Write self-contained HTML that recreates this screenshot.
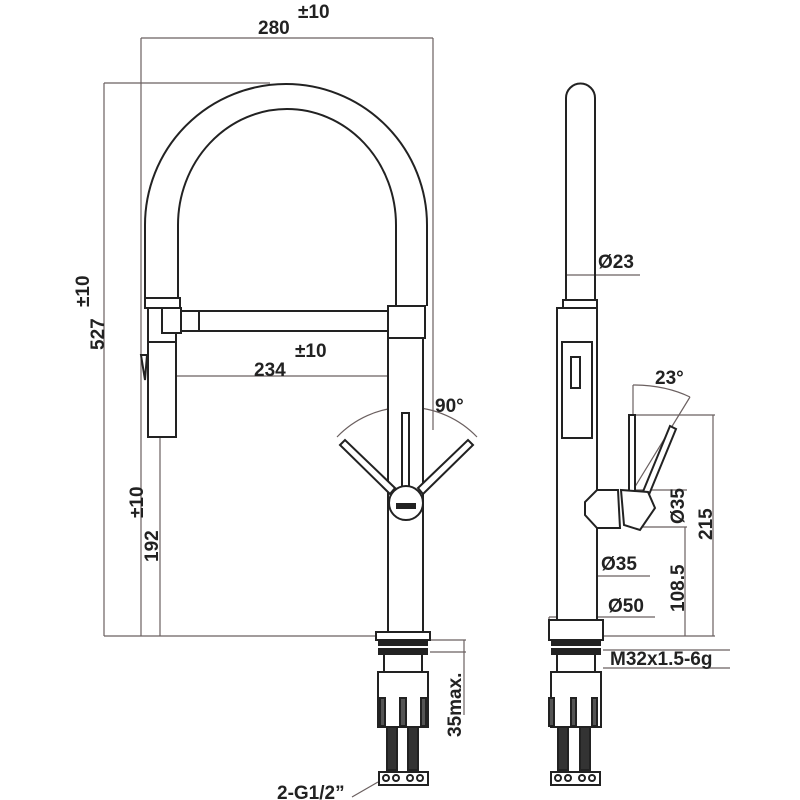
<!DOCTYPE html>
<html><head><meta charset="utf-8"><style>body{margin:0;background:#fff}svg{display:block}text{font-family:"Liberation Sans",sans-serif;font-weight:bold;fill:#222}</style></head><body>
<svg width="800" height="800" viewBox="0 0 800 800" xmlns="http://www.w3.org/2000/svg">
<g stroke="#6b6060" stroke-width="1.2" fill="none">
<line x1="141" y1="38" x2="433" y2="38"/>
<line x1="141" y1="38" x2="141" y2="636"/>
<line x1="433" y1="38" x2="433" y2="430"/>
<line x1="104" y1="83" x2="104" y2="636"/>
<line x1="104" y1="83" x2="270" y2="83"/>
<line x1="104" y1="636" x2="380" y2="636"/>
<line x1="160" y1="358" x2="160" y2="636"/>
<line x1="160" y1="376" x2="407" y2="376"/>
<line x1="407" y1="364" x2="407" y2="392"/>
<line x1="430" y1="640" x2="466" y2="640"/>
<line x1="430" y1="652" x2="466" y2="652"/>
<line x1="464" y1="640" x2="464" y2="715"/>
<path d="M337 437 A97 97 0 0 1 477 437"/>
<line x1="378" y1="782" x2="352" y2="797"/>
<line x1="567" y1="275" x2="640" y2="275"/>
<line x1="562" y1="576" x2="650" y2="576"/>
<line x1="549" y1="617" x2="655" y2="617"/>
<line x1="549" y1="617" x2="549" y2="640"/>
<line x1="603" y1="650" x2="730" y2="650"/>
<line x1="603" y1="668" x2="730" y2="668"/>
<line x1="628" y1="415" x2="715" y2="415"/>
<line x1="713" y1="415" x2="713" y2="636"/>
<line x1="620" y1="490" x2="687" y2="490"/>
<line x1="640" y1="527" x2="687" y2="527"/>
<line x1="685" y1="527" x2="685" y2="636"/>
<line x1="600" y1="636" x2="715" y2="636"/>
<line x1="633" y1="385" x2="633" y2="415"/>
<line x1="633" y1="490" x2="690" y2="397"/>
<path d="M633 385 Q665 385 690 397"/>
</g>
<g stroke="#222" stroke-width="2" fill="none">
<path d="M145 298 V225 A141 141 0 0 1 427 225 V306"/>
<path d="M178 298 V225 A109 116 0 0 1 396 225 V306"/>
<rect x="145" y="298" width="35" height="10" fill="#fff"/>
<rect x="148" y="308" width="28" height="129" fill="#fff"/>
<line x1="148" y1="342" x2="176" y2="342"/>
<path d="M141 355 L147 355 L145 380 Z" fill="#fff"/>
<rect x="162" y="308" width="19" height="25" fill="#fff"/>
<rect x="181" y="311" width="18" height="20" fill="#fff"/>
<rect x="199" y="311" width="189" height="20" fill="#fff"/>
<rect x="388" y="306" width="37" height="32" fill="#fff"/>
<rect x="388" y="338" width="35" height="294" fill="#fff"/>
<rect x="402" y="413" width="7" height="78" fill="#fff"/>
<path d="M340 445 L345 440 L395 488 L390 494 Z" fill="#fff"/>
<path d="M473 445 L468 440 L418 488 L423 494 Z" fill="#fff"/>
<circle cx="406" cy="503" r="17" fill="#fff"/>
<rect x="397" y="504" width="18" height="4" fill="#222"/>
<rect x="376" y="632" width="54" height="8" fill="#fff"/>
<rect x="379" y="641" width="48" height="4" fill="#222"/>
<rect x="379" y="649" width="48" height="5" fill="#222"/>
<rect x="384" y="654" width="38" height="18" fill="#fff"/>
<rect x="378" y="672" width="50" height="55" fill="#fff"/>
<rect x="380" y="698" width="5" height="28" fill="#555"/>
<rect x="400" y="698" width="6" height="28" fill="#555"/>
<rect x="421" y="698" width="5" height="28" fill="#555"/>
<rect x="387" y="727" width="10" height="43" fill="#333"/>
<rect x="408" y="727" width="10" height="43" fill="#333"/>
<rect x="379" y="772" width="49" height="13" fill="#fff"/>
<circle cx="386" cy="778" r="3"/><circle cx="396" cy="778" r="3"/><circle cx="410" cy="778" r="3"/><circle cx="420" cy="778" r="3"/>
<path d="M566 300 V98 A14.5 14.5 0 0 1 595 98 V300"/>
<rect x="563" y="300" width="34" height="8" fill="#fff"/>
<rect x="557" y="308" width="40" height="324" fill="#fff"/>
<rect x="562" y="342" width="30" height="96"/>
<rect x="571" y="357" width="9" height="31"/>
<rect x="629" y="415" width="6" height="78" fill="#fff"/>
<path d="M670 426 L676 429 L648 497 L642 494 Z" fill="#fff"/>
<path d="M597 490 L618 490 L620 528 L597 528 L585 515 L585 502 Z" fill="#fff"/>
<path d="M621 490 L648 492 L655 508 L640 530 L624 525 Z" fill="#fff"/>
<rect x="549" y="620" width="54" height="20" fill="#fff"/>
<rect x="552" y="641" width="48" height="4" fill="#222"/>
<rect x="552" y="649" width="48" height="5" fill="#222"/>
<rect x="557" y="654" width="38" height="18" fill="#fff"/>
<rect x="551" y="672" width="50" height="55" fill="#fff"/>
<rect x="549" y="698" width="5" height="28" fill="#555"/>
<rect x="571" y="698" width="5" height="28" fill="#555"/>
<rect x="592" y="698" width="5" height="28" fill="#555"/>
<rect x="558" y="727" width="10" height="43" fill="#333"/>
<rect x="580" y="727" width="10" height="43" fill="#333"/>
<rect x="551" y="772" width="49" height="13" fill="#fff"/>
<circle cx="558" cy="778" r="3"/><circle cx="568" cy="778" r="3"/><circle cx="582" cy="778" r="3"/><circle cx="592" cy="778" r="3"/>
</g>
<g font-size="19">
<text x="258" y="34">280</text><text x="298" y="18">±10</text>
<text x="254" y="376">234</text><text x="295" y="357">±10</text>
<text x="435" y="412">90°</text>
<text transform="translate(104,350) rotate(-90)">527</text><text transform="translate(89,307) rotate(-90)">±10</text>
<text transform="translate(158,562) rotate(-90)">192</text><text transform="translate(143,518) rotate(-90)">±10</text>
<text transform="translate(461,737) rotate(-90)">35max.</text>
<text x="277" y="799">2-G1/2”</text>
<text x="598" y="268">Ø23</text>
<text x="655" y="384">23°</text>
<text transform="translate(684,524) rotate(-90)">Ø35</text>
<text transform="translate(712,540) rotate(-90)">215</text>
<text transform="translate(684,612) rotate(-90)">108.5</text>
<text x="601" y="570">Ø35</text>
<text x="608" y="612">Ø50</text>
<text x="610" y="665">M32x1.5-6g</text>
</g>
</svg>
</body></html>
